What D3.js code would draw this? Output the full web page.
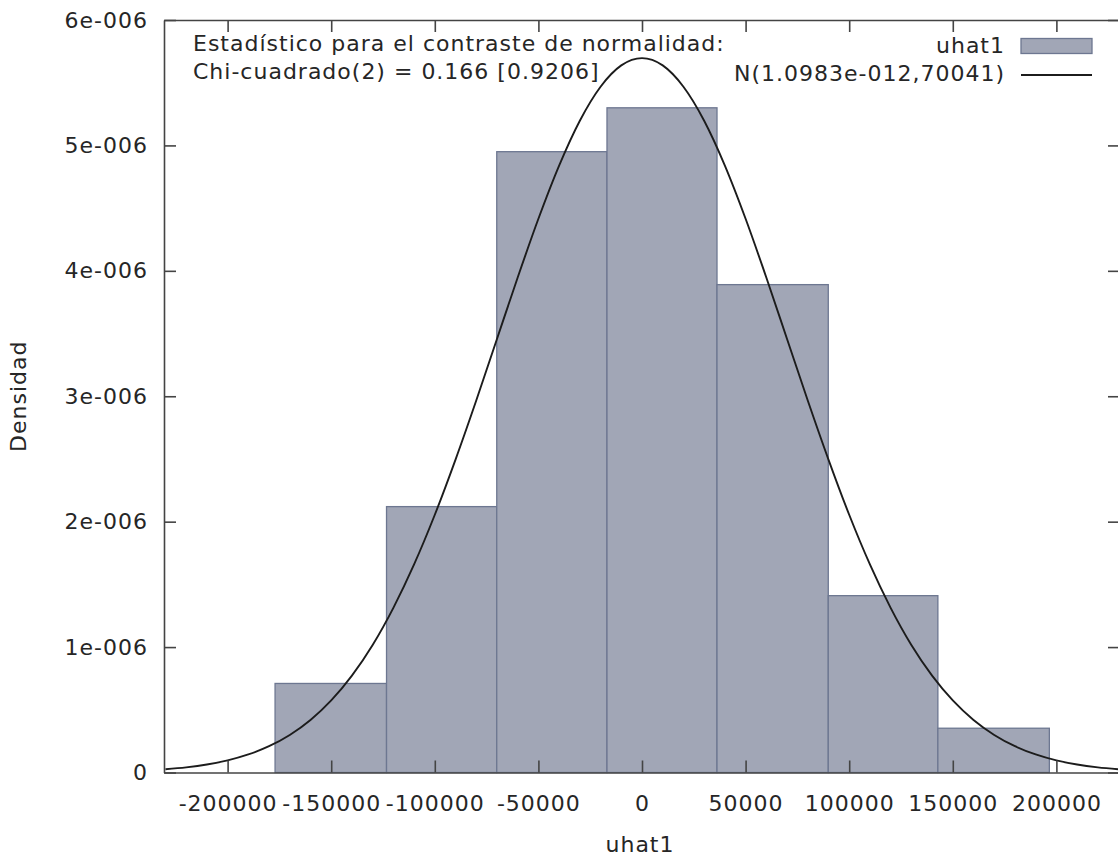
<!DOCTYPE html>
<meta charset="utf-8">
<style>
body { margin: 0; background: #fff; }
text { font-family: "DejaVu Sans", Verdana, sans-serif; fill: #262626; letter-spacing: 1px; }
.bar { fill: #a1a6b6; stroke: #6d7791; stroke-width: 1.3px; }
.curve { fill: none; stroke: #1c1c1c; stroke-width: 1.9px; }
.axis path, .axis line { stroke: #444; stroke-width: 1.6px; }
.axis text { font-size: 22px; fill: #262626; font-family: "DejaVu Sans", Verdana, sans-serif; }
</style>
<body>
<script src="https://d3js.org/d3.v7.min.js"></script>
<script>

// histogram bins (edges) and densities
let binEdges = [-177100, -123300, -70100, -16900, 36200, 89900, 142800, 196600];
let densities = [0.71e-6, 2.12e-6, 4.95e-6, 5.30e-6, 3.89e-6, 1.41e-6, 0.353e-6];

// fitted normal curve
let curveX = [-230000, -220000, -210000, -200000, -190000, -180000, -170000, -160000,
    -150000, -140000, -130000, -120000, -110000, -100000, -90000, -80000, -70000,
    -60000, -50000, -40000, -30000, -20000, -10000, 0, 10000, 20000, 30000, 40000,
    50000, 60000, 70000, 80000, 90000, 100000, 110000, 120000, 130000, 140000,
    150000, 160000, 170000, 180000, 190000, 200000, 210000, 220000, 230000];
let curveY = [0.0259, 0.0410, 0.0636, 0.0966, 0.1438, 0.2096, 0.2995, 0.4191,
    0.5749, 0.7727, 1.017, 1.313, 1.659, 2.055, 2.495, 2.966, 3.457,
    3.947, 4.415, 4.839, 5.197, 5.468, 5.638, 5.696, 5.638, 5.468, 5.197, 4.839,
    4.415, 3.947, 3.457, 2.966, 2.495, 2.055, 1.659, 1.313, 1.017, 0.7727,
    0.5749, 0.4191, 0.2995, 0.2096, 0.1438, 0.0966, 0.0636, 0.0410, 0.0259].map(function (v) { return v * 1e-6; });

let xTicks = [-200000, -150000, -100000, -50000, 0, 50000, 100000, 150000, 200000];
let yTicks = [0, 1e-6, 2e-6, 3e-6, 4e-6, 5e-6, 6e-6];
let yTickLabels = ["0", "1e-006", "2e-006", "3e-006", "4e-006", "5e-006", "6e-006"];

let testLines = ["Estadístico para el contraste de normalidad:", "Chi-cuadrado(2) = 0.166 [0.9206]"];
let legendLabels = ["uhat1", "N(1.0983e-012,70041)"];

// plot frame
let plotLeft = 164, plotRight = 1120, plotTop = 20, plotBottom = 772.5;

let x = d3.scaleLinear().domain([-230700, 230700]).range([plotLeft, plotRight]);
let y = d3.scaleLinear().domain([0, 6e-6]).range([plotBottom, plotTop]);

let svg = d3.select("body").append("svg")
    .attr("width", 1118)
    .attr("height", 858);

svg.append("clipPath").attr("id", "plotclip")
    .append("rect")
    .attr("x", plotLeft).attr("y", plotTop)
    .attr("width", plotRight - plotLeft).attr("height", plotBottom - plotTop);

// bars
let bins = densities.map(function (d, i) {
    return {x0: binEdges[i], x1: binEdges[i + 1], d: d};
});
svg.append("g").selectAll("rect").data(bins)
    .enter().append("rect")
    .attr("class", "bar")
    .attr("x", function (d) { return x(d.x0); })
    .attr("width", function (d) { return x(d.x1) - x(d.x0); })
    .attr("y", function (d) { return y(d.d); })
    .attr("height", function (d) { return plotBottom - y(d.d); });

// normal curve
let line = d3.line()
    .x(function (d, i) { return x(curveX[i]); })
    .y(function (d) { return y(d); })
    .curve(d3.curveMonotoneX);
svg.append("path")
    .datum(curveY)
    .attr("class", "curve")
    .attr("clip-path", "url(#plotclip)")
    .attr("d", line);

// axes, ticks pointing inward on all four sides
svg.append("g").attr("class", "axis")
    .attr("transform", "translate(0," + plotBottom + ")")
    .call(d3.axisBottom(x).tickValues(xTicks).tickSizeInner(-12).tickSizeOuter(0)
        .tickPadding(23).tickFormat(function (d) { return String(d); }));
svg.append("g").attr("class", "axis")
    .attr("transform", "translate(0," + plotTop + ")")
    .call(d3.axisTop(x).tickValues(xTicks).tickSizeInner(-12).tickSizeOuter(0).tickFormat(""));
svg.append("g").attr("class", "axis")
    .attr("transform", "translate(" + plotLeft + ",0)")
    .call(d3.axisLeft(y).tickValues(yTicks).tickSizeInner(-12).tickSizeOuter(0)
        .tickPadding(16).tickFormat(function (d, i) { return yTickLabels[i]; }));
svg.append("g").attr("class", "axis")
    .attr("transform", "translate(" + plotRight + ",0)")
    .call(d3.axisRight(y).tickValues(yTicks).tickSizeInner(-12).tickSizeOuter(0).tickFormat(""));

// axis titles
svg.append("text")
    .attr("x", 640).attr("y", 852)
    .attr("text-anchor", "middle")
    .style("font-size", "22px")
    .text("uhat1");
svg.append("text")
    .attr("transform", "translate(26," + ((plotTop + plotBottom) / 2) + ") rotate(-90)")
    .attr("text-anchor", "middle")
    .style("font-size", "22px")
    .text("Densidad");

// test statistic text
svg.selectAll(".note").data(testLines)
    .enter().append("text")
    .attr("class", "note")
    .attr("x", 193)
    .attr("y", function (d, i) { return 51 + i * 28; })
    .style("font-size", "22px")
    .text(function (d) { return d; });

// legend
svg.selectAll(".leg").data(legendLabels)
    .enter().append("text")
    .attr("class", "leg")
    .attr("x", 1005)
    .attr("y", function (d, i) { return 53 + i * 28; })
    .attr("text-anchor", "end")
    .style("font-size", "22px")
    .text(function (d) { return d; });
svg.append("rect")
    .attr("class", "bar")
    .attr("x", 1021).attr("y", 38.5)
    .attr("width", 71).attr("height", 15);
svg.append("line")
    .attr("x1", 1021).attr("x2", 1092)
    .attr("y1", 75).attr("y2", 75)
    .attr("stroke", "#1c1c1c").attr("stroke-width", 1.8);

</script>
</body>
